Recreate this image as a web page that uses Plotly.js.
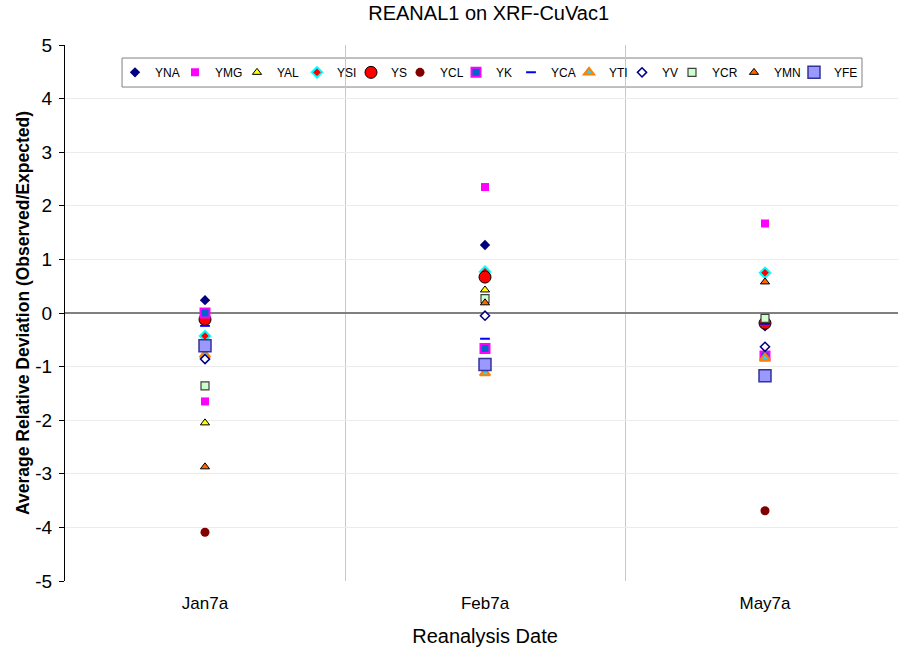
<!DOCTYPE html>
<html>
<head>
<meta charset="utf-8">
<script src="https://cdn.plot.ly/plotly-3.0.1.min.js"></script>
<style>
html,body{margin:0;padding:0;overflow:hidden;background:#fff;}
#chart{width:910px;height:654px;}
</style>
</head>
<body>
<div id="chart"></div>
<script>
const categories = ["Jan7a", "Feb7a", "May7a"];
const seriesNames = ["YNA","YMG","YAL","YSI","YS","YCL","YK","YCA","YTI","YV","YCR","YMN","YFE"];
const YNA = [0.24, 1.27, -0.25];
const YMG = [-1.65, 2.35, 1.67];
const YAL = [-2.05, 0.43, -0.15];
const YSI = [-0.43, 0.77, 0.75];
const YS  = [-0.12, 0.67, -0.19];
const YCL = [-4.09, null, -3.69];
const YK  = [0.0, -0.66, -0.80];
const YCA = [-0.24, -0.48, -0.20];
const YTI = [-0.78, -1.12, -0.84];
const YV  = [-0.86, -0.05, -0.63];
const YCR = [-1.36, 0.27, -0.10];
const YMN = [-2.87, 0.19, 0.58];
const YFE = [-0.61, -0.96, -1.17];
const yTickVals = [-5, -4, -3, -2, -1, 0, 1, 2, 3, 4, 5];
const yTickText = ["-5", "-4", "-3", "-2", "-1", "0", "1", "2", "3", "4", "5"];
const values = {YNA, YMG, YAL, YSI, YS, YCL, YK, YCA, YTI, YV, YCR, YMN, YFE};

const styles = {
  YNA: {symbol:"diamond", size:8, color:"#000080", line:{width:0}},
  YMG: {symbol:"square", size:8, color:"#FF00FF", line:{width:0}},
  YAL: {symbol:"triangle-up", size:8, color:"#FFFF00", line:{color:"#000000", width:1}},
  YSI: {symbol:"diamond", size:8, color:"#FF0000", line:{color:"#00FFFF", width:2}},
  YS:  {symbol:"circle", size:12, color:"#FF0000", line:{color:"#000000", width:1}},
  YCL: {symbol:"circle", size:9, color:"#800000", line:{width:0}},
  YK:  {symbol:"square", size:9, color:"#0066CC", line:{color:"#FF00FF", width:2}},
  YCA: {symbol:"line-ew", size:7, color:"#0000FF", line:{color:"#0000FF", width:2}},
  YTI: {symbol:"triangle-up", size:9, color:"#33CCFF", line:{color:"#FF8000", width:2}},
  YV:  {symbol:"diamond", size:7, color:"#FFFFFF", line:{color:"#000080", width:1.5}},
  YCR: {symbol:"square", size:8, color:"#CCFFCC", line:{color:"#404040", width:1.2}},
  YMN: {symbol:"triangle-up", size:8, color:"#FF6600", line:{color:"#000000", width:1}},
  YFE: {symbol:"square", size:12, color:"#9999FF", line:{color:"#333399", width:1.5}}
};

// Layout: pixel x of each legend entry's symbol (legend laid out like the reference)
const legendSymbolPx = [135, 195, 257, 317, 371, 420, 476, 531, 589, 642, 692, 754, 814];
const plotLeftPx = 65, plotWidthPx = 840, symbolOffsetPx = 20;
const legendId = i => (i === 0 ? "legend" : "legend" + (i + 1));

const traces = seriesNames.map((n, i) => ({
  type: "scatter",
  mode: "markers",
  name: n,
  x: categories,
  y: values[n],
  marker: styles[n],
  legend: legendId(i),
  cliponaxis: false
}));

const layout = {
  width: 910,
  height: 654,
  margin: {l: 65, r: 5, t: 45, b: 73},
  paper_bgcolor: "#ffffff",
  plot_bgcolor: "#ffffff",
  font: {family: "Liberation Sans, Arial, sans-serif", color: "#000000", size: 14},
  title: {text: "REANAL1 on XRF-CuVac1", x: 0.537, xanchor: "center", y: 0.98, yanchor: "middle", font: {size: 20}},
  showlegend: true,
  shapes: [{
    type: "rect", xref: "paper", yref: "paper",
    x0: 0.0679, x1: 0.9488, y0: 0.9216, y1: 0.9757,
    line: {color: "#808080", width: 1},
    fillcolor: "#ffffff",
    layer: "between"
  }],
  xaxis: {
    type: "category",
    categoryorder: "array",
    categoryarray: categories,
    range: [-0.5, 2.5],
    tickson: "boundaries",
    ticks: "",
    showgrid: true,
    gridcolor: "#c8c8c8",
    gridwidth: 1,
    showline: false,
    zeroline: false,
    tickfont: {size: 17},
    ticklabelstandoff: 10,
    title: {text: "Reanalysis Date", font: {size: 20}, standoff: 16}
  },
  yaxis: {
    range: [-5, 5],
    tickmode: "array",
    tickvals: yTickVals,
    ticktext: yTickText,
    ticks: "outside",
    ticklen: 5,
    tickcolor: "#000000",
    showline: true,
    linecolor: "#000000",
    linewidth: 1,
    showgrid: true,
    gridcolor: "#ececec",
    zeroline: true,
    zerolinecolor: "#808080",
    zerolinewidth: 1.5,
    tickfont: {size: 19},
    ticklabelstandoff: 3,
    title: {text: "Average Relative Deviation (Observed/Expected)", font: {size: 17.5, weight: "bold"}, standoff: 1}
  }
};

seriesNames.forEach((n, i) => {
  layout[legendId(i)] = {
    orientation: "h",
    x: (legendSymbolPx[i] - symbolOffsetPx - plotLeftPx) / plotWidthPx,
    xanchor: "left",
    y: 0.976, yanchor: "top",
    bgcolor: "rgba(0,0,0,0)",
    borderwidth: 0,
    font: {size: 12},
    itemwidth: 30
  };
});

Plotly.newPlot("chart", traces, layout, {displayModeBar: false, staticPlot: true});
</script>
</body>
</html>
